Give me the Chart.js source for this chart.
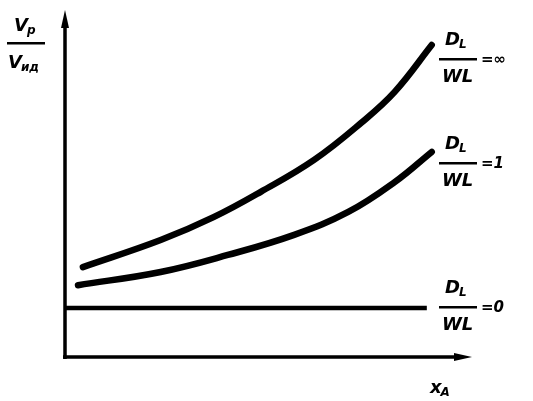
<!DOCTYPE html>
<html>
<head>
<meta charset="utf-8">
<script src="https://cdn.jsdelivr.net/npm/chart.js@4.4.0/dist/chart.umd.min.js"></script>
<style>
  html, body { margin: 0; padding: 0; background: #fff; }
  #wrap { width: 533px; height: 401px; position: relative; }
</style>
</head>
<body>
<div id="wrap"><canvas id="chart"></canvas></div>
<script>
// curve D_L/wL = infinity
const upperX = [4.4, 23.5, 36.5, 48.1, 61.2, 72.8, 81.0, 90.1];
const upperY = [25.9, 33.7, 40.3, 47.6, 56.8, 67.5, 76.4, 89.9];
// curve D_L/wL = 1
const lowerX = [3.2, 23.5, 40.0, 56.3, 69.6, 81.0, 90.1];
const lowerY = [20.7, 24.5, 29.4, 35.2, 41.8, 50.4, 59.1];
// curve D_L/wL = 0
const flatX = [0, 88.9];
const flatY = [14.1, 14.1];

const labelRight = ["=\u221e", "=1", "=0"];

function pts(xs, ys) {
    return xs.map((x, i) => ({ x: x, y: ys[i] }));
}

const FONT = "bold oblique 18px 'DejaVu Sans'";
const SUB = "bold oblique 12px 'DejaVu Sans'";

// text with subscript, left aligned at x, baseline y
function subText(ctx, main, sub, x, y) {
    ctx.font = FONT;
    ctx.textBaseline = 'alphabetic';
    ctx.textAlign = 'left';
    ctx.fillText(main, x, y);
    const w = ctx.measureText(main).width;
    ctx.font = SUB;
    ctx.fillText(sub, x + w - 1, y + 3);
}

const decor = {
    id: 'decor',
    afterDraw(chart) {
        const ctx = chart.ctx;
        const sx = chart.scales.x, sy = chart.scales.y;
        const x0 = sx.getPixelForValue(0), y0 = sy.getPixelForValue(0);
        const xEnd = sx.getPixelForValue(100), yEnd = sy.getPixelForValue(100);
        ctx.save();
        ctx.fillStyle = '#000';
        ctx.strokeStyle = '#000';
        ctx.lineWidth = 3.5;
        ctx.lineCap = 'butt';
        // axes
        ctx.beginPath();
        ctx.moveTo(x0, y0 + 2);
        ctx.lineTo(x0, yEnd + 12);
        ctx.moveTo(x0 - 2, y0);
        ctx.lineTo(xEnd - 12, y0);
        ctx.stroke();
        // arrow heads
        ctx.beginPath();
        ctx.moveTo(x0, yEnd);
        ctx.lineTo(x0 - 4, yEnd + 18);
        ctx.lineTo(x0 + 4, yEnd + 18);
        ctx.closePath();
        ctx.fill();
        ctx.beginPath();
        ctx.moveTo(xEnd, y0);
        ctx.lineTo(xEnd - 18, y0 - 4);
        ctx.lineTo(xEnd - 18, y0 + 4);
        ctx.closePath();
        ctx.fill();

        // y-axis label V_p / V_id
        subText(ctx, 'V', 'p', 14, 31);
        ctx.fillRect(7, 42, 38, 2.5);
        subText(ctx, 'V', '\u0438\u0434', 8, 68);

        // x-axis label
        subText(ctx, 'x', 'A', 430, 393);

        // curve labels: fraction D_L / wL = ...
        const tops = [28, 132, 276];
        tops.forEach((t, i) => {
            subText(ctx, 'D', 'L', 445, t + 17);
            ctx.fillRect(439, t + 30, 38, 2.5);
            ctx.font = FONT;
            ctx.fillText('WL', 442, t + 54);
            ctx.font = "bold oblique 15px 'DejaVu Sans'";
            ctx.fillText(labelRight[i], 481, t + 36);
        });
        ctx.restore();
    }
};

const lineStyle = {
    borderColor: '#000',
    borderWidth: 6.5,
    pointRadius: 0,
    fill: false,
    showLine: true,
    tension: 0.4,
    borderCapStyle: 'round'
};

new Chart(document.getElementById('chart').getContext('2d'), {
    type: 'scatter',
    data: {
        datasets: [
            Object.assign({ label: 'D/wL = inf', data: pts(upperX, upperY) }, lineStyle),
            Object.assign({ label: 'D/wL = 1', data: pts(lowerX, lowerY) }, lineStyle),
            Object.assign({ label: 'D/wL = 0', data: pts(flatX, flatY) }, lineStyle, { borderWidth: 4.5, borderCapStyle: 'butt', tension: 0 })
        ]
    },
    options: {
        responsive: true,
        maintainAspectRatio: false,
        animation: false,
        layout: { padding: { left: 65, top: 10, right: 61, bottom: 44 } },
        plugins: { legend: { display: false }, tooltip: { enabled: false } },
        scales: {
            x: { type: 'linear', min: 0, max: 100, display: false },
            y: { type: 'linear', min: 0, max: 100, display: false }
        }
    },
    plugins: [decor]
});
</script>
</body>
</html>
